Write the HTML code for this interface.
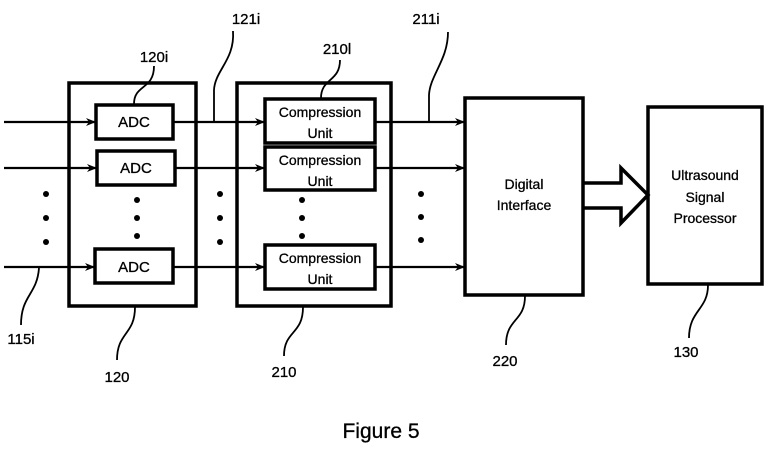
<!DOCTYPE html>
<html><head><style>body{margin:0;background:#fff}svg{display:block}</style></head><body>
<svg width="768" height="456" viewBox="0 0 768 456" xmlns="http://www.w3.org/2000/svg" font-family="Liberation Sans, sans-serif">
<defs><marker id="a" markerWidth="10" markerHeight="8" refX="9" refY="4" orient="auto" markerUnits="userSpaceOnUse"><path d="M0,0 L10,4 L0,8 L3,4 z" fill="#000"/></marker></defs>
<g fill="none" stroke="#000" stroke-width="3.5">
<rect x="69" y="83" width="127" height="223"/>
<rect x="237" y="83" width="154" height="223"/>
<rect x="465" y="98" width="118" height="197"/>
<rect x="648" y="107" width="114" height="177"/>
<rect x="96" y="105" width="77" height="34"/>
<rect x="97" y="151" width="78" height="34"/>
<rect x="95" y="249" width="78" height="34"/>
<rect x="265" y="99" width="110" height="44"/>
<rect x="265" y="147" width="110" height="43"/>
<rect x="265" y="245" width="110" height="44"/>
<path d="M584,183 H621 V168 L648,195 L621,223 V208 H584"/>
</g>
<g stroke="#000" stroke-width="2.2" marker-end="url(#a)">
<line x1="4" y1="122" x2="95" y2="122"/><line x1="4" y1="168" x2="96" y2="168"/><line x1="4" y1="267" x2="94" y2="267"/>
<line x1="174" y1="122" x2="264" y2="122"/><line x1="176" y1="168" x2="264" y2="168"/><line x1="174" y1="267" x2="264" y2="267"/>
<line x1="376" y1="122" x2="464" y2="122"/><line x1="376" y1="168" x2="464" y2="168"/><line x1="376" y1="267" x2="464" y2="267"/>
</g>
<g fill="#000">
<circle cx="46" cy="194" r="3"/><circle cx="46" cy="218" r="3"/><circle cx="46" cy="242" r="3"/>
<circle cx="137" cy="200" r="3"/><circle cx="137" cy="218" r="3"/><circle cx="137" cy="236" r="3"/>
<circle cx="220" cy="194" r="3"/><circle cx="220" cy="218" r="3"/><circle cx="220" cy="242" r="3"/>
<circle cx="302" cy="200" r="3"/><circle cx="302" cy="218" r="3"/><circle cx="302" cy="236" r="3"/>
<circle cx="421" cy="194" r="3"/><circle cx="421" cy="217" r="3"/><circle cx="421" cy="240" r="3"/>
</g>
<g fill="none" stroke="#000" stroke-width="1.8">
<path d="M233,31 C235,60 215,70 214,90 V121"/>
<path d="M154,66 C154,90 134,84 134,104"/>
<path d="M340,60 C340,82 321,78 321,98"/>
<path d="M448,32 C448,60 430,75 429,95 V121"/>
<path d="M39,268 C37,295 21,295 21,325"/>
<path d="M135,307 C135,335 117,332 117,360"/>
<path d="M303,307 C303,335 284,330 284,356"/>
<path d="M525,296 C525,322 506,318 506,345"/>
<path d="M708,285 C708,310 689,310 689,338"/>
</g>
<g font-size="15" text-anchor="middle" fill="#000" stroke="#000" stroke-width="0.3">
<text x="134" y="127">ADC</text><text x="136" y="173">ADC</text><text x="134" y="272">ADC</text>
<text x="320" y="117" font-size="14">Compression</text><text x="320" y="138" font-size="14">Unit</text>
<text x="320" y="165" font-size="14">Compression</text><text x="320" y="186" font-size="14">Unit</text>
<text x="320" y="263" font-size="14">Compression</text><text x="320" y="284" font-size="14">Unit</text>
<text x="524" y="189" font-size="14">Digital</text><text x="524" y="210" font-size="14">Interface</text>
<text x="705" y="180" font-size="14">Ultrasound</text><text x="705" y="202" font-size="14">Signal</text><text x="705" y="223" font-size="14">Processor</text>
<text x="246" y="24">121i</text><text x="154" y="62">120i</text><text x="337" y="54">210l</text><text x="426" y="24">211i</text>
<text x="21" y="344">115i</text><text x="117" y="382">120</text><text x="284" y="377">210</text><text x="505" y="366">220</text><text x="686" y="357">130</text>
<text x="381" y="438" font-size="21">Figure 5</text>
</g>
</svg>
</body></html>
